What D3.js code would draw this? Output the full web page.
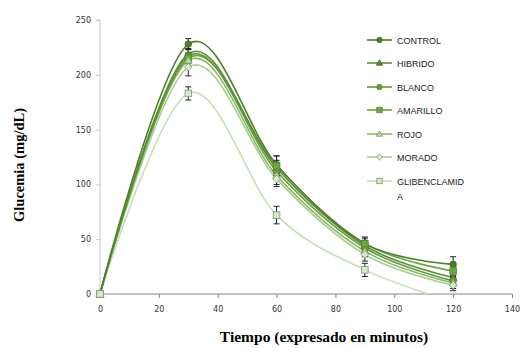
<!DOCTYPE html>
<html><head><meta charset="utf-8">
<script src="https://cdn.jsdelivr.net/npm/d3@7"></script>
<style>body{margin:0;background:#fff}svg{display:block}</style>
</head><body>
<svg id="c" width="530" height="348"></svg>
<script>
const times = [0, 30, 60, 90, 120];
const seriesNames = ["CONTROL", "HIBRIDO", "BLANCO", "AMARILLO", "ROJO", "MORADO", "GLIBENCLAMIDA"];
const control = [0, 228, 118, 46, 27];
const hibrido = [0, 219, 115, 44, 15];
const blanco = [0, 217, 112, 42, 12];
const amarillo = [0, 215, 117, 46, 21];
const rojo = [0, 213, 108, 39, 10];
const morado = [0, 207, 105, 36, 8];
const glibenclamida = [0, 183, 72, 22, -7];
const errControl = [0, 5, 8, 5, 7];
const errHibrido = [0, 5, 7, 5, 5];
const errBlanco = [0, 6, 7, 5, 5];
const errAmarillo = [0, 5, 9, 6, 5];
const errRojo = [0, 6, 8, 5, 5];
const errMorado = [0, 8, 7, 6, 5];
const errGlib = [0, 6, 8, 6, 0];
const xTicks = [0, 20, 40, 60, 80, 100, 120, 140];
const yTicks = [0, 50, 100, 150, 200, 250];

const values = [control, hibrido, blanco, amarillo, rojo, morado, glibenclamida];
const errs = [errControl, errHibrido, errBlanco, errAmarillo, errRojo, errMorado, errGlib];
const colors = ["#4e7d2c", "#5a8d33", "#62993a", "#6da642", "#88ba67", "#a8cd8e", "#c6dfb6"];
const fills = ["#4e7d2c", "#5a8d33", "#62993a", "#6da642", "#b9d9a3", "#d9ead0", "#d6e7cb"];
const markers = ["circle", "triangle", "circle", "square", "triangle", "diamond", "square"];

const svg = d3.select("#c");
const x = d3.scaleLinear().domain([0, 140]).range([100, 512]);
const y = d3.scaleLinear().domain([0, 250]).range([294, 20]);

svg.append("defs").append("clipPath").attr("id", "clip")
  .append("rect").attr("x", 100).attr("y", 18).attr("width", 412).attr("height", 276);

// y axis
const ya = svg.append("g").attr("transform", "translate(100,0)")
  .call(d3.axisLeft(y).tickValues(yTicks).tickSize(4).tickPadding(5));
ya.select(".domain").attr("stroke", "#c8c8c8").attr("d", "M-4,20H0V294H-4");
ya.selectAll(".tick line").attr("stroke", "#c8c8c8");
ya.selectAll("text").attr("font-family", "DejaVu Sans").attr("font-size", 8).attr("fill", "#333");

// x axis
const xa = svg.append("g").attr("transform", "translate(0,294)")
  .call(d3.axisBottom(x).tickValues(xTicks).tickSize(4).tickPadding(8));
xa.select(".domain").attr("stroke", "#868686").attr("d", "M100,0H512");
xa.selectAll(".tick line").attr("stroke", "#868686");
xa.selectAll("text").attr("font-family", "DejaVu Sans").attr("font-size", 8).attr("fill", "#333");

// titles
svg.append("text").attr("x", 324).attr("y", 342).attr("text-anchor", "middle")
  .attr("font-family", "Liberation Serif").attr("font-weight", "bold").attr("font-size", 15.5)
  .attr("fill", "#000").text("Tiempo (expresado en minutos)");
svg.append("text").attr("transform", "translate(24,165) rotate(-90)").attr("text-anchor", "middle")
  .attr("font-family", "Liberation Serif").attr("font-weight", "bold").attr("font-size", 14.5)
  .attr("fill", "#000").text("Glucemia (mg/dL)");

const line = d3.line().x((d, i) => x(times[i])).y(d => y(d)).curve(d3.curveCardinal.tension(0));

const gl = svg.append("g").attr("clip-path", "url(#clip)");
for (let s = values.length - 1; s >= 0; s--) {
  gl.append("path").attr("d", line(values[s])).attr("fill", "none")
    .attr("stroke", colors[s]).attr("stroke-width", 1.6);
}

function drawMarker(g, type, cx, cy, fill, stroke, size) {
  if (type === "circle") g.append("circle").attr("cx", cx).attr("cy", cy).attr("r", size * 0.6);
  else if (type === "square") g.append("rect").attr("x", cx - size * 0.6).attr("y", cy - size * 0.6).attr("width", size * 1.2).attr("height", size * 1.2);
  else if (type === "triangle") g.append("path").attr("d", `M${cx},${cy - size * 0.7}L${cx + size * 0.7},${cy + size * 0.5}L${cx - size * 0.7},${cy + size * 0.5}Z`);
  else if (type === "diamond") g.append("path").attr("d", `M${cx},${cy - size * 0.7}L${cx + size * 0.7},${cy}L${cx},${cy + size * 0.7}L${cx - size * 0.7},${cy}Z`);
  g.selectAll("*").attr("fill", fill).attr("stroke", stroke).attr("stroke-width", 0.8);
}

// error bars
const ge = svg.append("g");
values.forEach((vals, s) => {
  vals.forEach((v, i) => {
    const e = errs[s][i];
    if (!e || v < 0) return;
    const cx = x(times[i]);
    ge.append("path").attr("d", `M${cx},${y(v + e)}V${y(v - e)}M${cx - 3},${y(v + e)}H${cx + 3}M${cx - 3},${y(v - e)}H${cx + 3}`)
      .attr("stroke", "#222").attr("stroke-width", 1).attr("fill", "none");
  });
});

// markers
for (let s = 0; s < values.length; s++) {
  values[s].forEach((v, i) => {
    if (v < 0) return;
    const g = svg.append("g");
    drawMarker(g, markers[s], x(times[i]), y(v), fills[s], s >= 4 ? "#7f9a70" : d3.color(colors[s]).darker(0.6), 5.5);
  });
}

// legend
const lg = svg.append("g");
const ly = [40, 63, 87, 110, 134, 157, 181];
seriesNames.forEach((name, s) => {
  lg.append("line").attr("x1", 367).attr("x2", 392).attr("y1", ly[s]).attr("y2", ly[s])
    .attr("stroke", colors[s]).attr("stroke-width", 1.6);
  drawMarker(lg.append("g"), markers[s], 379.5, ly[s], fills[s], s >= 4 ? "#7f9a70" : d3.color(colors[s]).darker(0.6), 4.5);
  const t = lg.append("text").attr("x", 397).attr("y", ly[s] + 3.5)
    .attr("font-family", "Liberation Sans").attr("font-size", 9).attr("fill", "#222");
  if (name === "GLIBENCLAMIDA") {
    t.text("GLIBENCLAMID");
    lg.append("text").attr("x", 397).attr("y", ly[s] + 18.5)
      .attr("font-family", "Liberation Sans").attr("font-size", 9).attr("fill", "#222").text("A");
  } else t.text(name);
});
</script>
</body></html>
